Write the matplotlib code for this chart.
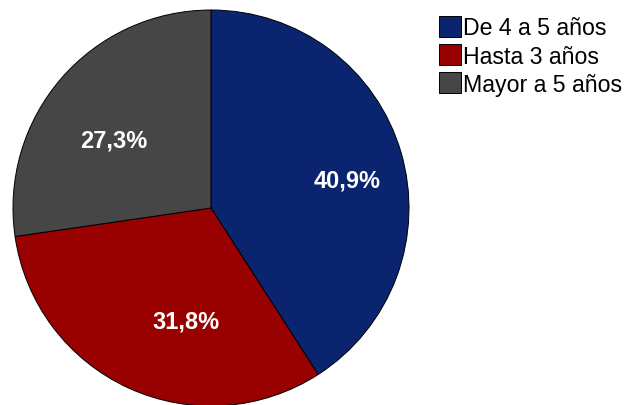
import matplotlib.pyplot as plt
import numpy as np

plt.rcParams['font.family'] = ['Liberation Sans', 'DejaVu Sans']

categorias = ['De 4 a 5 años', 'Hasta 3 años', 'Mayor a 5 años']
valores = [40.9, 31.8, 27.3]
etiquetas = ['40,9%', '31,8%', '27,3%']
colores = ['#0a2470', '#990000', '#464646']

fig = plt.figure(figsize=(6.26, 4.06), dpi=100)
ax = fig.add_axes([13/626, -1/406, 396/626, 396/406])

wedges, _ = ax.pie(valores, colors=colores, startangle=90, counterclock=False,
                   wedgeprops=dict(edgecolor='black', linewidth=0.7))
ax.set_xlim(-1, 1)
ax.set_ylim(-1, 1)
ax.set_aspect('equal')

# label positions as fraction of radius, tweaked by eye
dist = [0.70, 0.585, 0.60]
desvio = [-4.8, 12, 5.9]
for w, lab, d, dv in zip(wedges, etiquetas, dist, desvio):
    ang = np.deg2rad((w.theta1 + w.theta2) / 2 + dv)
    ax.text(d*np.cos(ang), d*np.sin(ang), lab, color='white', fontsize=17,
            fontweight='bold', ha='center', va='center')

leg = fig.legend(wedges, categorias, loc='upper left', bbox_to_anchor=(439/626, 1-17/406),
                 frameon=False, fontsize=16.7, handlelength=0.97, handleheight=1.0,
                 handletextpad=0.05, labelspacing=0.21, borderpad=0, borderaxespad=0)

fig.savefig('out.png', dpi=100)
